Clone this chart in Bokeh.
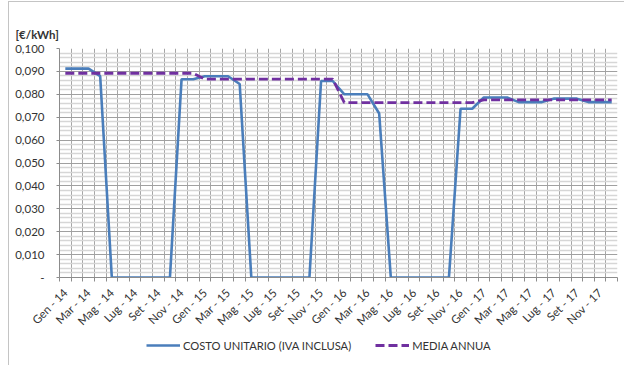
from bokeh.plotting import figure
from bokeh.models import (FixedTicker, Range1d, Legend, LegendItem)
from bokeh.layouts import column
from bokeh.embed import file_html
from bokeh.resources import INLINE
import math

# ---- data ----
mesi = ["Gen", "Feb", "Mar", "Apr", "Mag", "Giu", "Lug", "Ago", "Set", "Ott", "Nov", "Dic"]
anni = ["14", "15", "16", "17"]
month_labels = [f"{m} - {a}" for a in anni for m in mesi]

costo_unitario = [
    0.0912, 0.0912, 0.0912, 0.0879, 0.0, 0.0, 0.0, 0.0, 0.0, 0.0, 0.0866, 0.0866,
    0.0879, 0.0879, 0.0879, 0.0845, 0.0, 0.0, 0.0, 0.0, 0.0, 0.0, 0.0858, 0.0858,
    0.0800, 0.0800, 0.0800, 0.0716, 0.0, 0.0, 0.0, 0.0, 0.0, 0.0, 0.0737, 0.0737,
    0.0786, 0.0786, 0.0786, 0.0766, 0.0766, 0.0766, 0.0781, 0.0781, 0.0781, 0.0766, 0.0766, 0.0766,
]
media_annua = [
    0.0892, 0.0892, 0.0892, 0.0892, 0.0892, 0.0892, 0.0892, 0.0892, 0.0892, 0.0892, 0.0892, 0.0892,
    0.0866, 0.0866, 0.0866, 0.0866, 0.0866, 0.0866, 0.0866, 0.0866, 0.0866, 0.0866, 0.0866, 0.0866,
    0.0764, 0.0764, 0.0764, 0.0764, 0.0764, 0.0764, 0.0764, 0.0764, 0.0764, 0.0764, 0.0764, 0.0764,
    0.0776, 0.0776, 0.0776, 0.0776, 0.0776, 0.0776, 0.0776, 0.0776, 0.0776, 0.0776, 0.0776, 0.0776,
]
y_ticks = [0.0, 0.01, 0.02, 0.03, 0.04, 0.05, 0.06, 0.07, 0.08, 0.09, 0.10]
y_tick_labels = ["-", "0,010", "0,020", "0,030", "0,040", "0,050", "0,060", "0,070", "0,080", "0,090", "0,100"]
series_names = ["COSTO UNITARIO (IVA INCLUSA)", "MEDIA ANNUA"]

n = len(month_labels)
xs = list(range(n))

FONT = "Lato"
TXT = "#333333"
BLUE = "#4a7ebb"
PURPLE = "#7030a0"

W = 615
p = figure(width=W, height=333, output_backend="svg", toolbar_location=None,
           x_range=Range1d(-0.5, n - 0.5), y_range=Range1d(0, 0.1),
           min_border_left=50, min_border_right=7, min_border_top=46, min_border_bottom=55)
p.outline_line_color = None
p.background_fill_color = "white"
p.border_fill_color = "white"

# title
p.title.text = "[€/kWh]"
p.title.text_font = FONT
p.title.text_font_size = "11.5px"
p.title.text_font_style = "bold"
p.title.text_color = TXT
p.title.align = "left"
p.title.offset = -44
p.title.standoff = 16

# x axis: labels every 2 months, ticks at boundaries (minor)
boundaries = [i - 0.5 for i in range(n + 1)]
p.xaxis.ticker = FixedTicker(ticks=xs[::2], minor_ticks=boundaries)
p.xaxis.major_label_overrides = {i: month_labels[i] for i in xs[::2]}
p.xaxis.major_label_orientation = math.pi / 4
p.xaxis.major_tick_out = 0
p.xaxis.major_tick_in = 0
p.xaxis.minor_tick_out = 4
p.xaxis.minor_tick_in = 0
p.xaxis.minor_tick_line_color = "#8c8c8c"
p.xaxis.axis_line_color = "#8c8c8c"
p.xaxis.major_label_text_font = FONT
p.xaxis.major_label_text_font_size = "11.5px"
p.xaxis.major_label_text_color = TXT
p.xaxis.major_label_standoff = 9

p.xgrid.ticker = FixedTicker(ticks=boundaries)
p.xgrid.grid_line_color = "#a6a6a6"
p.xgrid.grid_line_width = 1

# y axis
minor_y = [round(k * 0.002, 3) for k in range(51) if k % 5 != 0]
p.yaxis.ticker = FixedTicker(ticks=y_ticks, minor_ticks=minor_y)
p.yaxis.major_label_overrides = {t: l for t, l in zip(y_ticks, y_tick_labels)}
p.yaxis.major_tick_out = 3
p.yaxis.major_tick_in = 0
p.yaxis.minor_tick_out = 0
p.yaxis.minor_tick_in = 0
p.yaxis.major_tick_line_color = "#8c8c8c"
p.yaxis.axis_line_color = "#8c8c8c"
p.yaxis.major_label_text_font = FONT
p.yaxis.major_label_text_font_size = "11.5px"
p.yaxis.major_label_text_color = TXT
p.yaxis.major_label_standoff = 12

p.ygrid.grid_line_color = "#a0a0a0"
p.ygrid.grid_line_width = 1
p.ygrid.minor_grid_line_color = "#d6d6d6"
p.ygrid.minor_grid_line_width = 1.5

p.line(xs, costo_unitario, line_color=BLUE, line_width=2.6)
p.line(xs, media_annua, line_color=PURPLE, line_width=2.8, line_dash="9 4")

# legend strip below (its series lines lie outside its visible range)
lf = figure(width=W, height=30, output_backend="svg", toolbar_location=None,
            x_range=Range1d(-0.5, n - 0.5), y_range=Range1d(1, 2),
            x_axis_type=None, y_axis_type=None,
            min_border_left=50, min_border_right=7, min_border_top=0, min_border_bottom=0)
lf.outline_line_color = None
lf.xgrid.visible = False
lf.ygrid.visible = False
l1 = lf.line(xs, costo_unitario, line_color=BLUE, line_width=2.6)
l2 = lf.line(xs, media_annua, line_color=PURPLE, line_width=2.8, line_dash="9 4")
legend = Legend(items=[LegendItem(label=series_names[0], renderers=[l1]),
                       LegendItem(label=series_names[1], renderers=[l2])],
                orientation="horizontal", location=(87, 12))
legend.label_text_font = FONT
legend.label_text_font_size = "11.2px"
legend.label_text_color = TXT
legend.glyph_width = 34
legend.glyph_height = 16
legend.label_standoff = 3
legend.spacing = 24
legend.padding = 2
legend.margin = 0
legend.border_line_color = None
legend.background_fill_alpha = 0
lf.add_layout(legend, "center")

layout = column(p, lf, spacing=0, margin=(1, 0, 0, 8),
                styles={"border-left": "1px solid #c4c4c4", "border-top": "1px solid #c4c4c4"})
open("out.html", "w").write(file_html(layout, INLINE))
